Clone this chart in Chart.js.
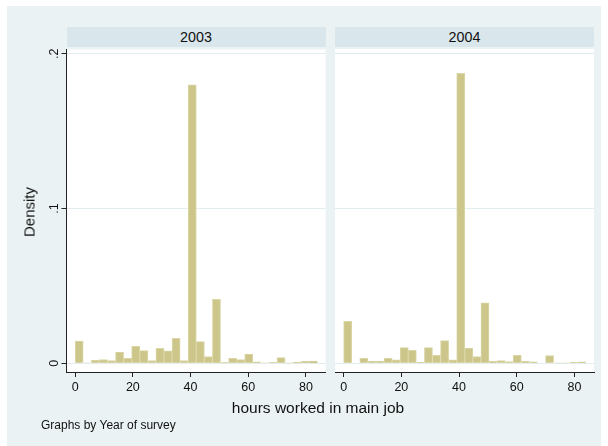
<!DOCTYPE html>
<html>
<head>
<meta charset="utf-8">
<script src="https://cdn.jsdelivr.net/npm/chart.js@4/dist/chart.umd.min.js"></script>
<style>
  html, body { margin: 0; padding: 0; background: #fff; }
  body { width: 608px; height: 446px; position: relative; overflow: hidden;
         font-family: "Liberation Sans", Arial, sans-serif; color: #111; }
  #bg { position: absolute; left: 7px; top: 6px; width: 594px; height: 440px; background: #eaf2f3; }
  .strip { position: absolute; top: 27px; height: 20px; background: #d9e6eb;
           font-size: 14.3px; line-height: 20px; text-align: center; }
  canvas { position: absolute; }
  .lbl { position: absolute; white-space: nowrap; }
</style>
</head>
<body>
<div id="bg"></div>
<div class="strip" id="strip1" style="left:66.5px;width:259px;"></div>
<div class="strip" id="strip2" style="left:335px;width:259px;"></div>
<canvas id="panel1" width="330" height="370" style="left:0;top:40px;"></canvas>
<canvas id="panel2" width="278" height="370" style="left:330px;top:40px;"></canvas>
<div class="lbl" id="ytitle" style="left:29px;top:212px;font-size:15px;transform:translate(-50%,-50%) rotate(-90deg);"></div>
<div class="lbl" id="xtitle" style="left:318px;top:408px;font-size:15.5px;transform:translate(-50%,-50%);"></div>
<div class="lbl" id="note" style="left:41px;top:425px;font-size:12px;transform:translateY(-50%);"></div>
<script>
// histogram bins (midpoints, width 2.8 hours)
const binMids = [1.4, 4.2, 7, 9.8, 12.6, 15.4, 18.2, 21, 23.8, 26.6, 29.4, 32.2, 35, 37.8, 40.6,
  43.4, 46.2, 49, 51.8, 54.6, 57.4, 60.2, 63, 65.8, 68.6, 71.4, 74.2, 77, 79.8, 82.6];

const years = ["2003", "2004"];

const density2003 = [0.0144, 0.0004, 0.002, 0.0025, 0.0018, 0.0073, 0.0032, 0.011, 0.0082, 0.0018,
  0.0097, 0.008, 0.0161, 0.0018, 0.18, 0.014, 0.0043, 0.0413, 0.0005, 0.0032,
  0.0025, 0.006, 0.001, 0.0003, 0.0007, 0.0037, 0.0003, 0.0006, 0.0013, 0.0015];

const density2004 = [0.0271, 0, 0.0032, 0.0013, 0.0013, 0.0032, 0.0022, 0.0101, 0.0084, 0.0006,
  0.0101, 0.0052, 0.0146, 0.0022, 0.1871, 0.0099, 0.0043, 0.039, 0.0013, 0.0017,
  0.0011, 0.0052, 0.0013, 0.0009, 0, 0.005, 0.0003, 0.0003, 0.0006, 0.0009];

const xTicks = [0, 20, 40, 60, 80];
const yTicks = [0, 0.1, 0.2];

const yTitle = "Density";
const xTitle = "hours worked in main job";
const noteText = "Graphs by Year of survey";

const barFill = "#cdc68a";
const barEdge = "#dad6a6";
const gridColor = "#e3edf0";
const axisColor = "#222";

function byId(id) {
  return document.getElementById(id);
}

function fmtY(v) {
  if (v === 0) return "0";
  return String(Math.round(v * 10) / 10).replace(/^0\./, ".");
}

const whitePlot = {
  id: "whitePlot",
  beforeDraw(chart) {
    const a = chart.chartArea;
    const ctx = chart.ctx;
    ctx.save();
    ctx.fillStyle = "#fff";
    ctx.fillRect(a.left, a.top, a.right - a.left, a.bottom - a.top);
    ctx.restore();
  },
};

function makePanel(canvasId, values, showY, padding) {
  return new Chart(byId(canvasId), {
    type: "bar",
    data: {
      datasets: [{
        data: binMids.map((x, i) => ({ x, y: values[i] })),
        backgroundColor: barFill,
        borderColor: barEdge,
        borderWidth: 1,
        barPercentage: 1,
        categoryPercentage: 1,
      }],
    },
    options: {
      responsive: false,
      animation: false,
      devicePixelRatio: 1,
      layout: { padding },
      plugins: { legend: { display: false }, tooltip: { enabled: false } },
      scales: {
        x: {
          type: "linear",
          min: -3,
          max: 86.8,
          offset: false,
          afterBuildTicks: (s) => { s.ticks = xTicks.map((v) => ({ value: v })); },
          afterFit: (s) => { s.height = 38; },
          grid: { offset: false, drawOnChartArea: false, tickLength: 5, tickColor: axisColor },
          border: { display: true, color: axisColor, width: 1 },
          ticks: {
            color: "#111",
            padding: 3,
            maxRotation: 0,
            font: { family: "'Liberation Sans', Arial, sans-serif", size: 12.5 },
          },
        },
        y: {
          display: showY ? true : false,
          min: -0.0056,
          max: 0.2028,
          afterBuildTicks: (s) => { s.ticks = yTicks.map((v) => ({ value: v })); },
          afterFit: (s) => { s.width = 66.5; },
          grid: { color: gridColor, tickLength: 5, tickColor: axisColor, drawOnChartArea: true },
          border: { display: true, color: axisColor, width: 1 },
          ticks: {
            color: "#111",
            padding: 2,
            minRotation: 90,
            maxRotation: 90,
            crossAlign: "center",
            callback: (v) => fmtY(v),
            font: { family: "'Liberation Sans', Arial, sans-serif", size: 12.5 },
          },
        },
      },
    },
    plugins: [whitePlot],
  });
}

makePanel("panel1", density2003, true, { top: 9, right: 4.5, left: 0, bottom: 0 });
const p2 = makePanel("panel2", density2004, false, { top: 9, right: 14, left: 5, bottom: 0 });
// right panel keeps gridlines though its axis is hidden
p2.options.scales.y.display = true;
p2.options.scales.y.ticks.display = false;
p2.options.scales.y.border.display = false;
p2.options.scales.y.grid.drawTicks = false;
p2.options.scales.y.afterFit = (s) => { s.width = 0; };
p2.update();

byId("strip1").textContent = years[0];
byId("strip2").textContent = years[1];
byId("ytitle").textContent = yTitle;
byId("xtitle").textContent = xTitle;
byId("note").textContent = noteText;
</script>
</body>
</html>
